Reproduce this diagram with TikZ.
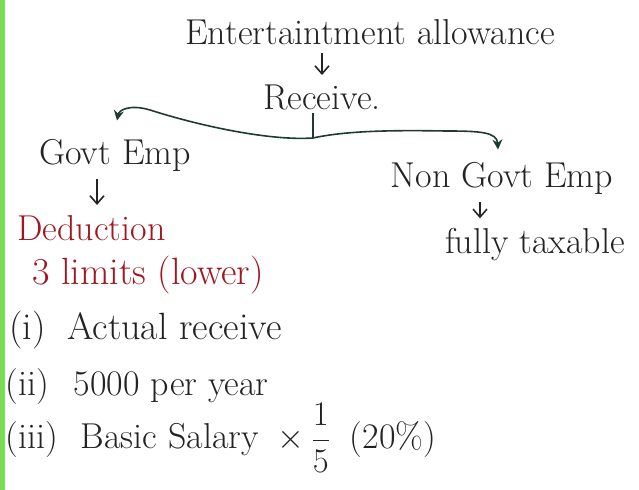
\documentclass[tikz,border=0pt]{standalone}
\usepackage{amsmath}
\usepackage{tikz}
\usetikzlibrary{arrows.meta,positioning}
\definecolor{noteink}{RGB}{35,35,35}
\definecolor{notered}{RGB}{158,24,34}
\definecolor{notegreen}{RGB}{118,222,82}
\definecolor{notebrace}{RGB}{32,58,50}

\begin{document}
\begin{tikzpicture}[x=0.5pt,y=-0.5pt,>={Straight Barb[length=4pt,width=7pt]},font=\fontsize{18}{21}\selectfont,
    every node/.style={text=noteink,inner sep=1pt},
    redtext/.style={text=notered,anchor=west},
    itemtext/.style={anchor=west},
    downarrow/.style={->,thick,draw=noteink,shorten <=3pt,shorten >=4pt},
    bracearrow/.style={-{Stealth[length=5pt,width=5pt]},thick,draw=notebrace}]
  \useasboundingbox (0,0) rectangle (639,490);
  \fill[notegreen] (0,0) rectangle (5,490);
  \node (title) at (370,32) {Entertaintment allowance};
  \node (receive) at (322,98) {Receive.};
  \node (govt) at (115,155) {Govt Emp};
  \node (nongovt) at (502,178) {Non Govt Emp};
  \node (taxable) at (535,245) {fully taxable};
  \node[redtext] (deduction) at (15,228) {Deduction};
  \node[redtext,font=\fontsize{19}{22}\selectfont] (limits) at (30,275) {3 limits (lower)};
  \node[itemtext,font=\fontsize{19}{22}\selectfont] (actual) at (7,330) {(i)\hspace{5pt} Actual receive};
  \node[itemtext] (fixed) at (3,387) {(ii)\hspace{7pt} 5000 per year};
  \node[itemtext] (basic) at (3,438) {(iii)\hspace{6pt} Basic Salary\hspace{4pt} $\times\,\dfrac{1}{5}$\hspace{4pt} (20\%)};
  % arrows down
  \draw[downarrow] (receive.north |- title.south) -- (receive.north);
  \draw[downarrow] ([xshift=-9pt]govt.south) -- ([xshift=-9pt]govt.south |- deduction.north);
  \draw[downarrow] ([xshift=-11pt]nongovt.south) -- ([xshift=-11pt]nongovt.south |- taxable.north);
  % the brace under Receive
  \coordinate (cusp) at (313,138);
  \draw[thick,notebrace] (cusp |- receive.south) -- (cusp);
  \draw[bracearrow] (cusp) .. controls (270,141) and (200,126) .. (150,110) .. controls (130,104) and (119,110) .. ([xshift=1pt,yshift=8pt]govt.north);
  \draw[bracearrow] (cusp) .. controls (345,131) and (390,130) .. (445,131) .. controls (480,131) and (497,132) .. ([xshift=-2pt,yshift=5pt]nongovt.north);
\end{tikzpicture}
\end{document}
